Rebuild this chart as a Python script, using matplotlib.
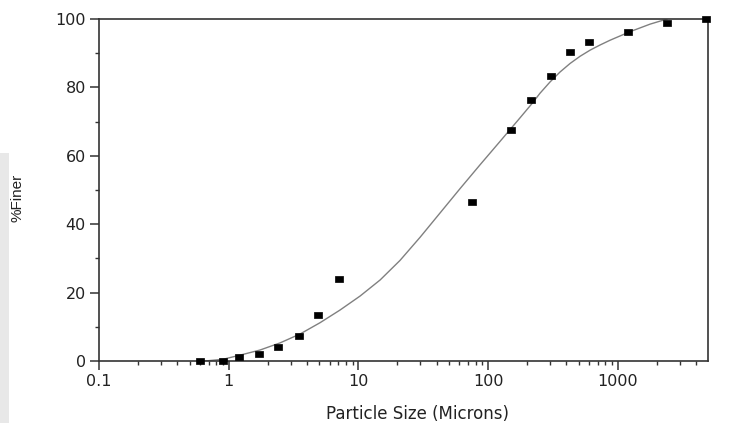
import matplotlib
matplotlib.use("Agg")
import matplotlib.pyplot as plt
from matplotlib.patches import Rectangle
from matplotlib.path import Path
from matplotlib.ticker import LogLocator, FixedLocator, NullFormatter

# measured points (particle size in microns, % finer)
size_um = [0.6, 0.9, 1.2, 1.7, 2.4, 3.5, 4.9, 7.1, 75, 150, 214, 304, 425, 600, 1190, 2380, 4750]
pct_finer = [0.0, 0.0, 1.1, 2.0, 4.2, 7.3, 13.4, 23.9, 46.6, 67.5, 76.3, 83.3, 90.3, 93.3, 96.2, 98.8, 100.0]

# fitted curve
fit_size = [0.656, 0.903, 1.22, 1.74, 2.49, 3.55, 5.06, 7.21, 10.3, 14.7, 20.9, 29.9, 42.6, 60.7,
            86.7, 124, 176, 218, 251, 300, 358, 428, 511, 611, 729, 871, 1242, 1771, 2395]
fit_pct = [0.0, 0.5, 1.7, 3.2, 5.3, 7.9, 11.2, 14.9, 19.0, 23.7, 29.4, 36.2, 43.3, 50.4,
           57.4, 64.3, 71.1, 75.3, 78.3, 81.6, 84.5, 87.0, 89.1, 90.9, 92.4, 93.8, 96.3, 98.5, 100.0]

plt.rcParams['font.family'] = ['DejaVu Sans']

fig = plt.figure(figsize=(7.37, 4.23), dpi=100)
ax = fig.add_axes([99 / 737, 1 - 361 / 423, 609 / 737, 342 / 423])

# faint grey strip at the left edge of the scan
fig.add_artist(Rectangle((0, 0), 9 / 737, 270 / 423, transform=fig.transFigure,
                         facecolor='#e8e8e8', edgecolor='none', zorder=0))

# wide flat rectangle marker
box = Path([(-1, -0.72), (1, -0.72), (1, 0.72), (-1, 0.72), (-1, -0.72)],
           [Path.MOVETO, Path.LINETO, Path.LINETO, Path.LINETO, Path.CLOSEPOLY])

ax.plot(fit_size, fit_pct, color='#808080', lw=1.0, zorder=2)
ax.plot(size_um, pct_finer, ls='none', marker=box, ms=6.2, mfc='black', mec='black', mew=0.5,
        zorder=3, clip_on=False)

ax.set_xscale('log')
ax.set_xlim(0.1, 4950)
ax.set_ylim(0, 100)

ax.xaxis.set_major_locator(FixedLocator([0.1, 1, 10, 100, 1000]))
ax.set_xticklabels(['0.1', '1', '10', '100', '1000'])
ax.xaxis.set_minor_locator(LogLocator(base=10, subs=range(2, 10), numticks=20))
ax.xaxis.set_minor_formatter(NullFormatter())
ax.set_yticks([0, 20, 40, 60, 80, 100])
ax.set_yticks([10, 30, 50, 70, 90], minor=True)

for s in ax.spines.values():
    s.set_color('#333333')
    s.set_linewidth(1.2)

ax.tick_params(which='major', direction='out', length=6.5, width=1.1, color='#333333',
               labelsize=11.5, labelcolor='#222222', top=False, right=False, pad=3)
ax.tick_params(which='minor', direction='out', length=3, width=1.0, color='#333333',
               top=False, right=False)

ax.set_xlabel('Particle Size (Microns)', fontsize=12, color='#222222')
ax.xaxis.set_label_coords((418 - 99) / 609, -44 / 342)
ax.set_ylabel('%Finer', fontsize=11, color='#222222',
              family=['Liberation Sans Narrow', 'Liberation Sans', 'DejaVu Sans'])
ax.yaxis.set_label_coords(-74 / 609, (361 - 198) / 342)

fig.savefig('out.png', dpi=100)
